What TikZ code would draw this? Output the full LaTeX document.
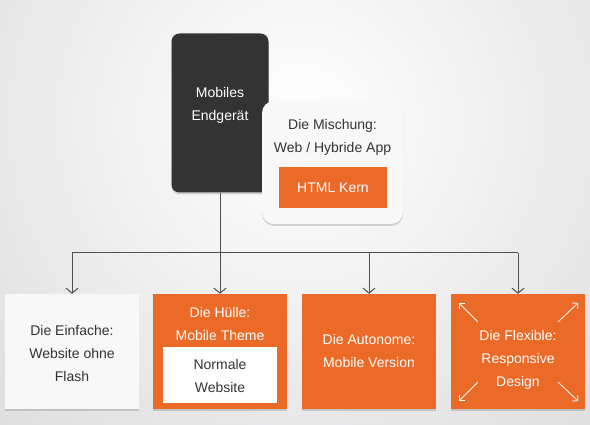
\documentclass[tikz,border=0pt]{standalone}
\usepackage{fontspec}
\setmainfont{Liberation Sans}
\usetikzlibrary{arrows.meta,shadows}
\definecolor{orng}{HTML}{EC6A28}
\definecolor{darkbox}{HTML}{333333}
\definecolor{whitebox}{HTML}{F8F8F9}
\definecolor{linegray}{HTML}{505050}
\definecolor{textdark}{HTML}{333333}
\definecolor{bggray}{HTML}{D8D7D9}
\tikzset{
  txt/.style={font=\fontsize{14}{23}\selectfont, align=center, inner sep=0pt},
  softshadow/.style={
    drop shadow={shadow xshift=0pt, shadow yshift=-2pt, opacity=0.15, fill=black}},
  bigbox/.style={minimum width=134pt, minimum height=115pt, inner sep=0pt, softshadow},
  connector/.style={draw=linegray, line width=1pt},
  arrowed/.style={connector, -{Straight Barb[length=5pt,width=12pt]}},
  cornerarrow/.style={draw=white, line width=0.8pt, -{Straight Barb[length=4pt,width=8pt]}}
}
\begin{document}
\begin{tikzpicture}[x=1pt,y=-1pt]
\useasboundingbox (0,0) rectangle (590,425);
\begin{scope}
\clip (0,0) rectangle (590,425);
\shade[inner color=white, outer color=bggray] (300,120) circle (520);
\end{scope}

% top boxes
\node[fill=darkbox, rounded corners=8pt, minimum width=97pt, minimum height=159pt, inner sep=0pt, softshadow] (dark) at (220,113) {};
\node[txt, text=white] (darktxt) at (220,105) {Mobiles\\Endgerät};

\node[fill=whitebox, rounded corners=12pt, minimum width=141pt, minimum height=123pt, inner sep=0pt, softshadow] (mix) at (332.5,162.5) {};
\node[txt, text=textdark] (mixtxt) at (332.5,137) {Die Mischung:\\Web / Hybride App};
\node[fill=orng, minimum width=108pt, minimum height=41pt, inner sep=0pt, txt, text=white] (kern) at (333,187.5) {HTML Kern};

% bottom boxes
\node[bigbox, fill=whitebox] (b1) at (72,351.5) {};
\node[bigbox, fill=orng] (b2) at (220,351.5) {};
\node[bigbox, fill=orng] (b3) at (369,351.5) {};
\node[bigbox, fill=orng] (b4) at (518,351.5) {};

\node[txt, text=textdark] (b1txt) at (72,353) {Die Einfache:\\Website ohne\\Flash};
\node[txt, text=white] (b2txt) at (220,323.5) {Die Hülle:\\Mobile Theme};
\node[fill=white, minimum width=114pt, minimum height=56pt, inner sep=0pt] (b2in) at (220,375) {};
\node[txt, text=textdark] (b2intxt) at (220,375.5) {Normale\\Website};
\node[txt, text=white] (b3txt) at (369,350.5) {Die Autonome:\\Mobile Version};
\node[txt, text=white] (b4txt) at (518,359.5) {Die Flexible:\\Responsive\\Design};

% connectors
\coordinate (j) at (220,253);
\draw[arrowed] (dark.south) -- (b2.north);
\draw[connector] (b1.north |- j) -- (b4.north |- j);
\draw[arrowed] (b1.north |- j) -- (b1.north);
\draw[arrowed] (b3.north |- j) -- (b3.north);
\draw[arrowed] (b4.north |- j) -- (b4.north);

% corner arrows
\draw[cornerarrow] ([shift={(27,28)}]b4.north west) -- ([shift={(8,9)}]b4.north west);
\draw[cornerarrow] ([shift={(-27,28)}]b4.north east) -- ([shift={(-7,9)}]b4.north east);
\draw[cornerarrow] ([shift={(27,-27)}]b4.south west) -- ([shift={(8,-8)}]b4.south west);
\draw[cornerarrow] ([shift={(-27,-27)}]b4.south east) -- ([shift={(-7,-8)}]b4.south east);
\end{tikzpicture}
\end{document}
